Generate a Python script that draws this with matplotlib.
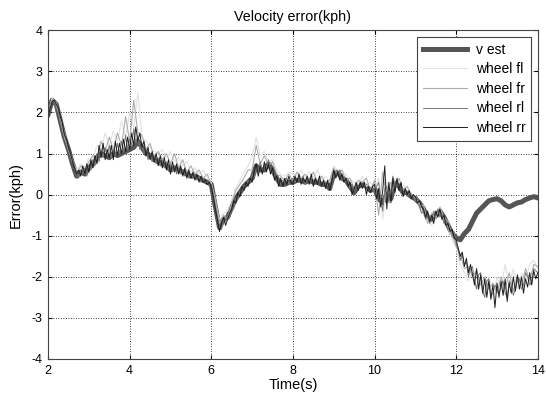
import numpy as np
import matplotlib
matplotlib.use("Agg")
import matplotlib.pyplot as plt

plt.rcParams['font.family'] = ['Liberation Sans', 'DejaVu Sans']
plt.rcParams['axes.unicode_minus'] = False

# time bases (s): 0.1 s and 0.05 s sampling from 2 to 14
t = np.round(np.arange(2.0, 14.05, 0.1), 2)
t_fine = np.round(np.arange(2.0, 14.025, 0.05), 2)

v_est = [
    1.95, 2.3, 2.2, 1.8, 1.4, 1.1, 0.75, 0.45, 0.55, 0.5,
    0.65, 0.75, 0.9, 1.0, 0.95, 0.9, 1.0, 0.95, 1.0, 1.05,
    1.1, 1.15, 1.3, 1.15, 1.0, 0.95, 0.85, 0.8, 0.75, 0.7,
    0.6, 0.65, 0.6, 0.55, 0.5, 0.45, 0.45, 0.4, 0.35, 0.3,
    0.25, -0.3, -0.8, -0.6, -0.55, -0.3, -0.1, 0.05, 0.2, 0.3,
    0.4, 0.7, 0.6, 0.6, 0.75, 0.6, 0.4, 0.25, 0.25, 0.3,
    0.3, 0.35, 0.35, 0.3, 0.35, 0.3, 0.3, 0.25, 0.25, 0.15,
    0.5, 0.55, 0.4, 0.35, 0.2, 0.05, 0.2, 0.25, 0.2, 0.1,
    0.15, -0.1, -0.2, 0.0, -0.1, 0.3, 0.2, 0.05, 0.05, -0.05,
    -0.1, -0.2, -0.35, -0.55, -0.6, -0.5, -0.4, -0.55, -0.75, -0.95,
    -1.05, -1.1, -0.95, -0.85, -0.65, -0.45, -0.35, -0.25, -0.15, -0.12,
    -0.1, -0.15, -0.25, -0.3, -0.25, -0.2, -0.18, -0.12, -0.08, -0.05,
    -0.08,
]

wheel_fl = [
    2.0, 2.35, 2.2, 1.85, 1.5, 1.1, 0.8, 0.6, 0.75, 0.65,
    0.9, 0.85, 1.2, 1.1, 1.5, 1.2, 1.55, 1.3, 1.8, 1.4,
    2.0, 1.6, 2.5, 1.4, 1.3, 1.15, 1.05, 1.0, 1.1, 0.9,
    1.05, 0.8, 0.9, 0.7, 0.8, 0.55, 0.65, 0.5, 0.6, 0.4,
    0.3, -0.2, -0.6, -0.45, -0.4, -0.1, 0.15, 0.35, 0.55, 0.7,
    0.9, 1.4, 0.95, 1.05, 0.8, 0.85, 0.6, 0.5, 0.45, 0.55,
    0.5, 0.45, 0.6, 0.4, 0.55, 0.4, 0.6, 0.35, 0.45, 0.3,
    0.7, 0.6, 0.55, 0.5, 0.35, 0.3, 0.25, 0.45, 0.2, 0.3,
    0.15, 0.4, -0.6, 0.3, 0.0, 0.35, 0.3, 0.25, 0.1, 0.05,
    -0.1, -0.2, -0.5, -0.6, -0.75, -0.5, -0.45, -0.6, -0.8, -1.1,
    -1.3, -1.7, -1.9, -2.1, -1.9, -2.3, -2.1, -2.4, -2.0, -2.5,
    -2.0, -2.3, -1.7, -2.2, -1.8, -2.3, -1.9, -2.1, -1.7, -1.6,
    -1.8,
]

wheel_fr = [
    1.9, 2.3, 2.25, 1.8, 1.4, 1.1, 0.85, 0.5, 0.7, 0.6,
    0.8, 0.95, 0.85, 1.3, 1.05, 1.4, 1.1, 1.5, 1.2, 1.9,
    1.3, 2.3, 1.5, 1.45, 1.1, 1.25, 0.9, 1.05, 0.85, 1.0,
    0.75, 1.0, 0.65, 0.85, 0.55, 0.7, 0.5, 0.6, 0.4, 0.5,
    0.25, -0.1, -0.7, -0.5, -0.6, -0.2, 0.1, 0.25, 0.4, 0.6,
    0.6, 1.2, 0.75, 0.95, 0.7, 0.8, 0.5, 0.45, 0.35, 0.5,
    0.35, 0.55, 0.4, 0.5, 0.35, 0.55, 0.3, 0.45, 0.3, 0.35,
    0.65, 0.5, 0.6, 0.35, 0.4, 0.15, 0.35, 0.3, 0.4, 0.1,
    0.35, -0.5, 0.55, -0.1, 0.3, 0.15, 0.4, 0.1, 0.2, 0.0,
    -0.05, -0.3, -0.25, -0.7, -0.45, -0.6, -0.3, -0.55, -0.65, -1.0,
    -1.25, -1.45, -1.8, -1.75, -2.0, -1.85, -2.2, -2.0, -2.3, -2.15,
    -2.4, -2.0, -2.3, -1.9, -2.35, -2.0, -2.2, -1.8, -2.1, -1.7,
    -1.75,
]

# rear wheels read at 0.05 s
wheel_rl = [
    1.95, 2.2, 2.3, 2.25, 2.1, 2.0, 1.8, 1.65, 1.5, 1.3,
    1.1, 0.95, 0.85, 0.7, 0.55, 0.4, 0.6, 0.5, 0.65, 0.45,
    0.7, 0.6, 0.85, 0.7, 1.0, 0.8, 1.1, 0.9, 1.15, 0.95,
    1.2, 0.9, 1.1, 0.95, 1.25, 1.0, 1.3, 1.05, 1.45, 1.1,
    1.35, 1.2, 1.6, 1.25, 1.45, 1.1, 1.2, 1.0, 1.1, 0.85,
    1.0, 0.8, 0.95, 0.75, 0.9, 0.7, 0.85, 0.65, 0.8, 0.6,
    0.75, 0.55, 0.7, 0.5, 0.65, 0.5, 0.6, 0.45, 0.55, 0.4,
    0.5, 0.4, 0.5, 0.35, 0.45, 0.3, 0.35, 0.3, 0.3, 0.25,
    0.25, 0.0, -0.25, -0.55, -0.8, -0.85, -0.6, -0.65, -0.5, -0.55,
    -0.3, -0.35, -0.1, -0.1, 0.05, 0.1, 0.2, 0.25, 0.35, 0.3,
    0.5, 0.4, 0.65, 0.55, 0.8, 0.6, 0.7, 0.65, 0.85, 0.6,
    0.55, 0.45, 0.35, 0.3, 0.25, 0.35, 0.3, 0.4, 0.25, 0.35,
    0.4, 0.3, 0.35, 0.4, 0.3, 0.45, 0.25, 0.4, 0.3, 0.35,
    0.25, 0.4, 0.3, 0.35, 0.2, 0.3, 0.2, 0.25, 0.15, 0.2,
    0.5, 0.55, 0.45, 0.6, 0.35, 0.45, 0.3, 0.35, 0.15, 0.25,
    0.1, 0.25, 0.15, 0.3, 0.2, 0.25, 0.1, 0.2, 0.1, 0.15,
    0.05, 0.2, 0.3, -0.1, -0.4, 0.15, 0.2, -0.2, 0.1, 0.45,
    0.2, 0.35, 0.1, 0.25, 0.0, 0.1, -0.05, 0.05, -0.1, 0.0,
    -0.15, -0.05, -0.3, -0.45, -0.4, -0.6, -0.5, -0.7, -0.55, -0.4,
    -0.5, -0.35, -0.55, -0.45, -0.7, -0.6, -0.85, -0.8, -0.95, -0.9,
    -1.2, -1.35, -1.6, -1.45, -1.7, -1.65, -2.0, -1.8, -1.75, -2.1,
    -2.3, -1.95, -1.9, -2.35, -2.5, -2.1, -2.05, -2.45, -2.4, -2.2,
    -2.3, -2.4, -2.25, -2.1, -2.4, -2.5, -2.1, -2.2, -2.45, -2.3,
    -2.1, -2.05, -2.3, -2.2, -1.9, -2.0, -2.2, -2.1, -1.8, -1.85,
    -1.9,
]

wheel_rr = [
    1.85, 2.1, 2.25, 2.3, 2.2, 2.1, 1.9, 1.75, 1.45, 1.35,
    1.15, 1.0, 0.8, 0.65, 0.5, 0.6, 0.45, 0.7, 0.5, 0.75,
    0.55, 0.85, 0.65, 0.95, 0.75, 1.2, 0.9, 1.25, 0.85, 1.1,
    0.9, 1.2, 0.85, 1.3, 0.95, 1.25, 1.0, 1.35, 1.05, 1.4,
    1.1, 1.5, 1.2, 1.65, 1.3, 1.5, 1.15, 1.3, 0.95, 1.15,
    0.85, 1.05, 0.8, 1.0, 0.7, 0.95, 0.65, 0.9, 0.6, 0.85,
    0.5, 0.8, 0.55, 0.75, 0.5, 0.7, 0.45, 0.65, 0.4, 0.6,
    0.4, 0.55, 0.35, 0.5, 0.3, 0.45, 0.3, 0.35, 0.25, 0.3,
    0.2, -0.05, -0.35, -0.6, -0.9, -0.7, -0.55, -0.75, -0.6, -0.45,
    -0.35, -0.15, -0.2, 0.05, -0.05, 0.2, 0.1, 0.3, 0.2, 0.4,
    0.3, 0.55, 0.75, 0.45, 0.7, 0.5, 0.8, 0.55, 0.75, 0.5,
    0.65, 0.35, 0.45, 0.2, 0.4, 0.2, 0.4, 0.25, 0.45, 0.3,
    0.25, 0.45, 0.3, 0.5, 0.25, 0.4, 0.3, 0.45, 0.25, 0.5,
    0.2, 0.4, 0.25, 0.45, 0.2, 0.35, 0.15, 0.35, 0.1, 0.3,
    0.6, 0.4, 0.55, 0.35, 0.5, 0.3, 0.4, 0.2, 0.3, 0.0,
    0.15, 0.3, 0.1, 0.3, 0.15, 0.3, 0.0, 0.2, 0.05, 0.2,
    0.25, -0.1, 0.15, -0.3, 0.1, 0.7, -0.35, 0.3, -0.2, 0.4,
    0.05, 0.4, 0.1, 0.3, -0.05, 0.15, 0.0, 0.1, -0.1, 0.0,
    -0.05, -0.2, -0.15, -0.3, -0.35, -0.55, -0.4, -0.65, -0.5, -0.7,
    -0.4, -0.55, -0.35, -0.6, -0.5, -0.75, -0.7, -0.9, -0.85, -1.05,
    -1.1, -1.3, -1.5, -1.4, -1.75, -1.55, -1.9, -1.7, -1.95, -2.2,
    -1.8, -2.3, -1.95, -2.4, -2.05, -2.5, -2.1, -2.55, -2.2, -2.75,
    -2.15, -2.5, -2.1, -2.45, -2.05, -2.6, -2.15, -2.4, -2.0, -2.35,
    -1.95, -2.3, -2.0, -2.4, -2.05, -2.25, -1.9, -2.2, -1.85, -2.05,
    -1.9,
]

series = [
    ('v est', t, v_est, '#555555', 3.6),
    ('wheel fl', t, wheel_fl, '#e2e2e2', 0.8),
    ('wheel fr', t, wheel_fr, '#adadad', 0.8),
    ('wheel rl', t_fine, wheel_rl, '#777777', 0.7),
    ('wheel rr', t_fine, wheel_rr, '#1e1e1e', 0.7),
]

fig = plt.figure(figsize=(5.46, 3.98), dpi=100)
ax = fig.add_axes([0.088, 0.098, 0.897, 0.826])

for label, x, values, color, lw in series:
    ax.plot(x, values, color=color, lw=lw, label=label)

ax.set_xlim(2, 14)
ax.set_ylim(-4, 4)
ax.set_xticks(range(2, 15, 2))
ax.set_yticks(range(-4, 5))
ax.grid(True, color='black', linestyle=(0, (1, 2)), linewidth=0.6)
ax.tick_params(direction='in', top=True, right=True, length=3,
               labelsize=9, colors='black', pad=4)
for sp in ax.spines.values():
    sp.set_color('#444444')
    sp.set_linewidth(0.8)

ax.set_title('Velocity error(kph)', fontsize=10.3, pad=7)
ax.set_xlabel('Time(s)', fontsize=10.5, labelpad=1)
ax.set_ylabel('Error(kph)', fontsize=10.5, labelpad=6)

legend = ax.legend(loc='upper right', fontsize=10, handlelength=3.2,
                   labelspacing=0.4, handletextpad=0.6,
                   borderaxespad=0.5, fancybox=False, framealpha=1,
                   edgecolor='#444444')
legend.get_frame().set_linewidth(0.8)

fig.savefig('out.png', dpi=100)
